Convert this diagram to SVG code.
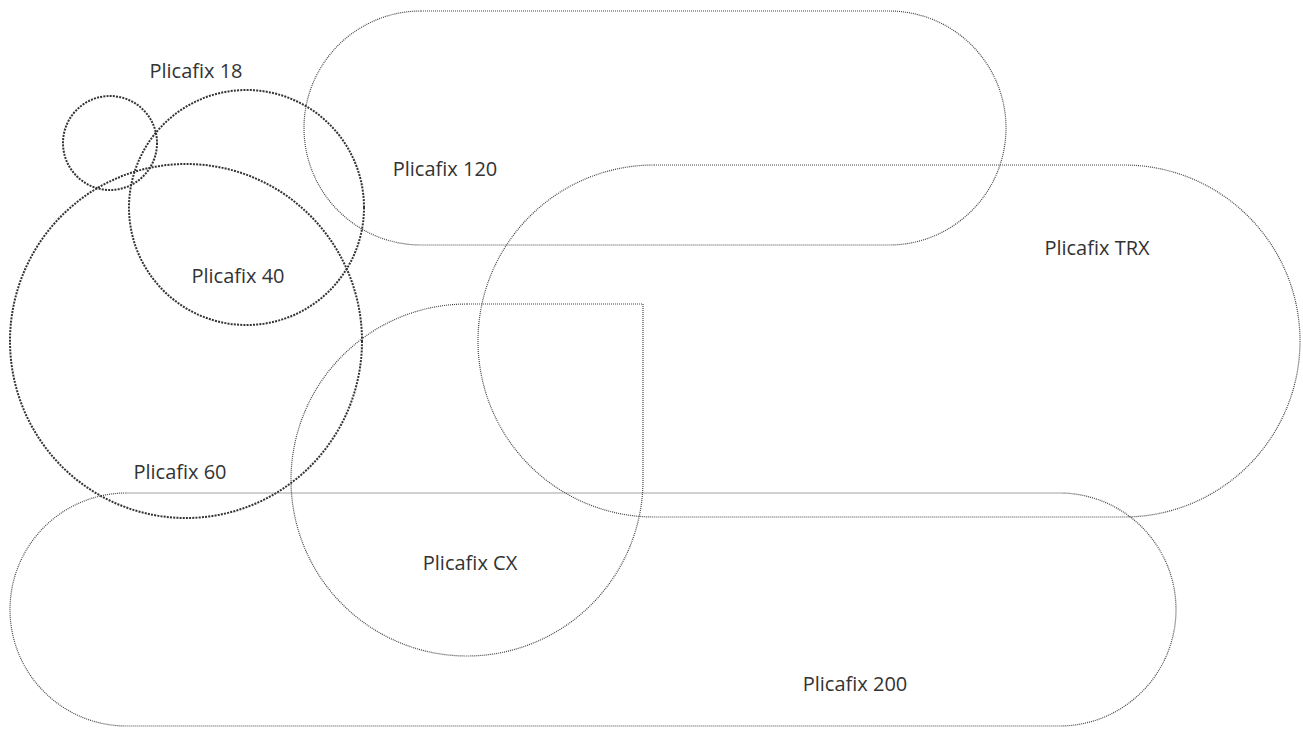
<svg xmlns="http://www.w3.org/2000/svg" width="1303" height="729" viewBox="0 0 1303 729">
<style>
.thick{fill:none;stroke:#333;stroke-width:2;stroke-dasharray:2 1.2}
.thin{fill:none;stroke:#444;stroke-width:1.2;stroke-dasharray:1 1}
text{font-family:"Open Sans","Liberation Sans",sans-serif;font-size:20px;fill:#333;text-anchor:middle}
</style>
<rect width="1303" height="729" fill="#fff"/>
<g id="p200"><rect class="thin" x="10" y="493" width="1166" height="233" rx="116.5"/><text x="855" y="691">Plicafix 200</text></g>
<g id="ptrx"><rect class="thin" x="478" y="165" width="822" height="352" rx="176"/><text x="1097" y="255">Plicafix TRX</text></g>
<g id="p120"><rect class="thin" x="304" y="11" width="702" height="234" rx="117"/><text x="445" y="176">Plicafix 120</text></g>
<g id="pcx"><path class="thin" d="M467 304 L643 304 L643 480 A176 176 0 1 1 467 304 Z"/><text x="470" y="570">Plicafix CX</text></g>
<g id="p60"><ellipse class="thick" cx="186" cy="341" rx="176" ry="177"/><text x="180" y="479">Plicafix 60</text></g>
<g id="p40"><circle class="thick" cx="246.5" cy="207.5" r="117.5"/><text x="238" y="283">Plicafix 40</text></g>
<g id="p18"><circle class="thick" cx="110" cy="143" r="47"/><text x="196" y="78">Plicafix 18</text></g>
<g id="connectors"></g>
</svg>
